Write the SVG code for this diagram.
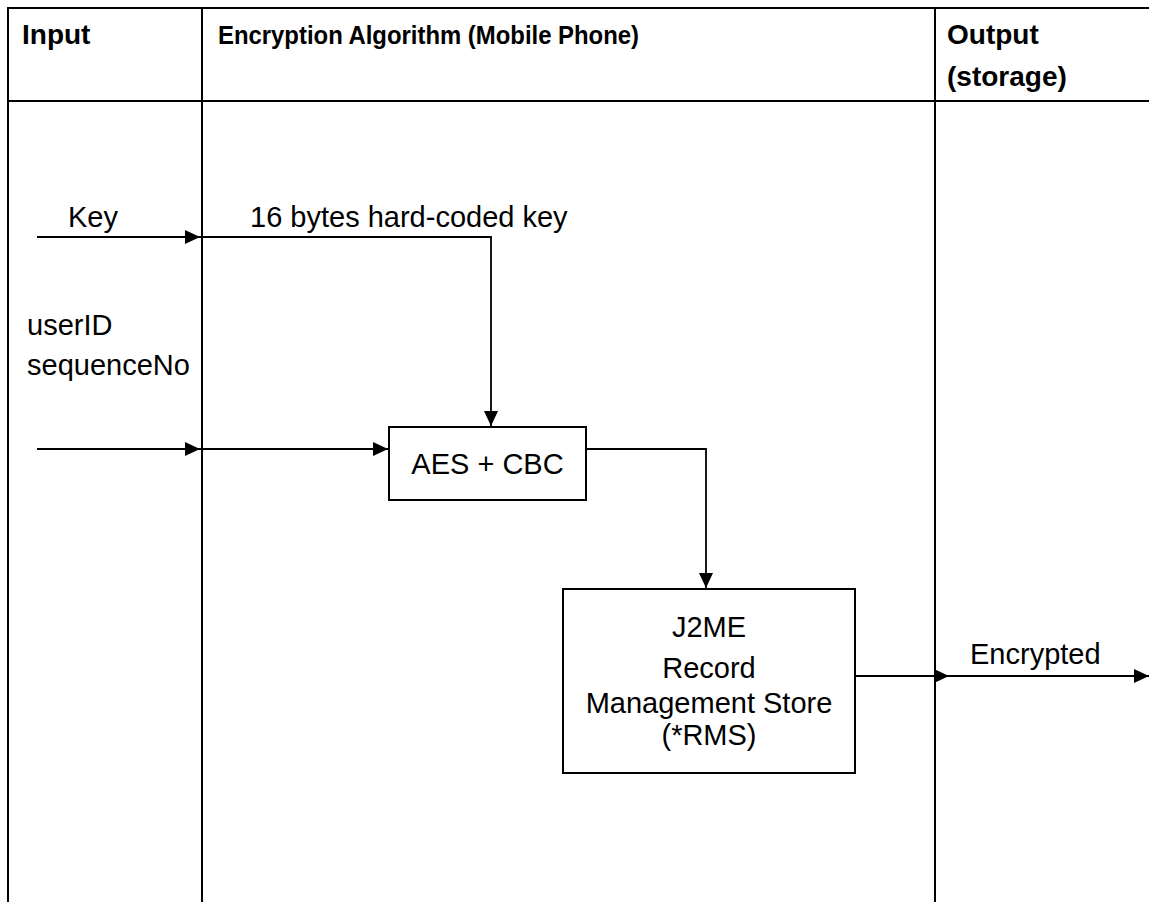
<svg xmlns="http://www.w3.org/2000/svg" width="1149" height="902" viewBox="0 0 1149 902">
  <style>
    .grid { stroke: #000; stroke-width: 2; fill: none; }
    .head { font-family: "Liberation Sans", Arial, sans-serif; font-weight: bold; font-size: 28px; fill: #000; }
    .lbl { font-family: "Liberation Sans", Arial, sans-serif; font-size: 29px; fill: #000; }
    .box { fill: #fff; stroke: #000; stroke-width: 2; }
    .wire { stroke: #000; stroke-width: 1.8; fill: none; }
  </style>
  <defs>
    <marker id="arrow" viewBox="0 0 15 14" refX="15" refY="7" markerWidth="15" markerHeight="14" markerUnits="userSpaceOnUse" orient="auto">
      <path d="M0,0 L15,7 L0,14 Z" fill="#000"/>
    </marker>
  </defs>
  <rect width="1149" height="902" fill="#fff"/>

  <!-- swimlane table -->
  <g id="lanes">
    <line class="grid" x1="7" y1="8" x2="1149" y2="8"/>
    <line class="grid" x1="7" y1="101" x2="1149" y2="101"/>
    <line class="grid" x1="8" y1="7" x2="8" y2="902"/>
    <line class="grid" x1="202" y1="7" x2="202" y2="902"/>
    <line class="grid" x1="935" y1="7" x2="935" y2="902"/>
    <text class="head" x="22" y="44">Input</text>
    <text class="head" x="218" y="44" style="font-size:26px" textLength="421" lengthAdjust="spacingAndGlyphs">Encryption Algorithm (Mobile Phone)</text>
    <text class="head" x="947" y="44">Output</text>
    <text class="head" x="947" y="86">(storage)</text>
  </g>

  <!-- input labels -->
  <g id="inputs">
    <text class="lbl" x="68" y="227">Key</text>
    <text class="lbl" x="250" y="227">16 bytes hard-coded key</text>
    <text class="lbl" x="27" y="335">userID</text>
    <text class="lbl" x="27" y="375">sequenceNo</text>
  </g>

  <g id="aes">
    <rect class="box" x="389" y="427" width="197" height="73"/>
    <text class="lbl" x="487.5" y="474" text-anchor="middle">AES + CBC</text>
  </g>

  <g id="rms">
    <rect class="box" x="563" y="589" width="292" height="184"/>
    <text class="lbl" x="709" y="637" text-anchor="middle">J2ME</text>
    <text class="lbl" x="709" y="678" text-anchor="middle">Record</text>
    <text class="lbl" x="709" y="713" text-anchor="middle">Management Store</text>
    <text class="lbl" x="709" y="745" text-anchor="middle">(*RMS)</text>
  </g>

  <g id="output">
    <text class="lbl" x="970" y="664">Encrypted</text>
  </g>

  <!-- connectors -->
  <g id="connectors">
    <line class="wire" x1="37" y1="237" x2="200" y2="237" marker-end="url(#arrow)"/>
    <polyline class="wire" points="200,237 491,237 491,426" marker-end="url(#arrow)"/>
    <line class="wire" x1="37" y1="449" x2="200" y2="449" marker-end="url(#arrow)"/>
    <line class="wire" x1="200" y1="449" x2="388" y2="449" marker-end="url(#arrow)"/>
    <polyline class="wire" points="586,449 706,449 706,588" marker-end="url(#arrow)"/>
    <line class="wire" x1="855" y1="676" x2="949" y2="676" marker-end="url(#arrow)"/>
    <line class="wire" x1="935" y1="676" x2="1149" y2="676" marker-end="url(#arrow)"/>
  </g>
</svg>
